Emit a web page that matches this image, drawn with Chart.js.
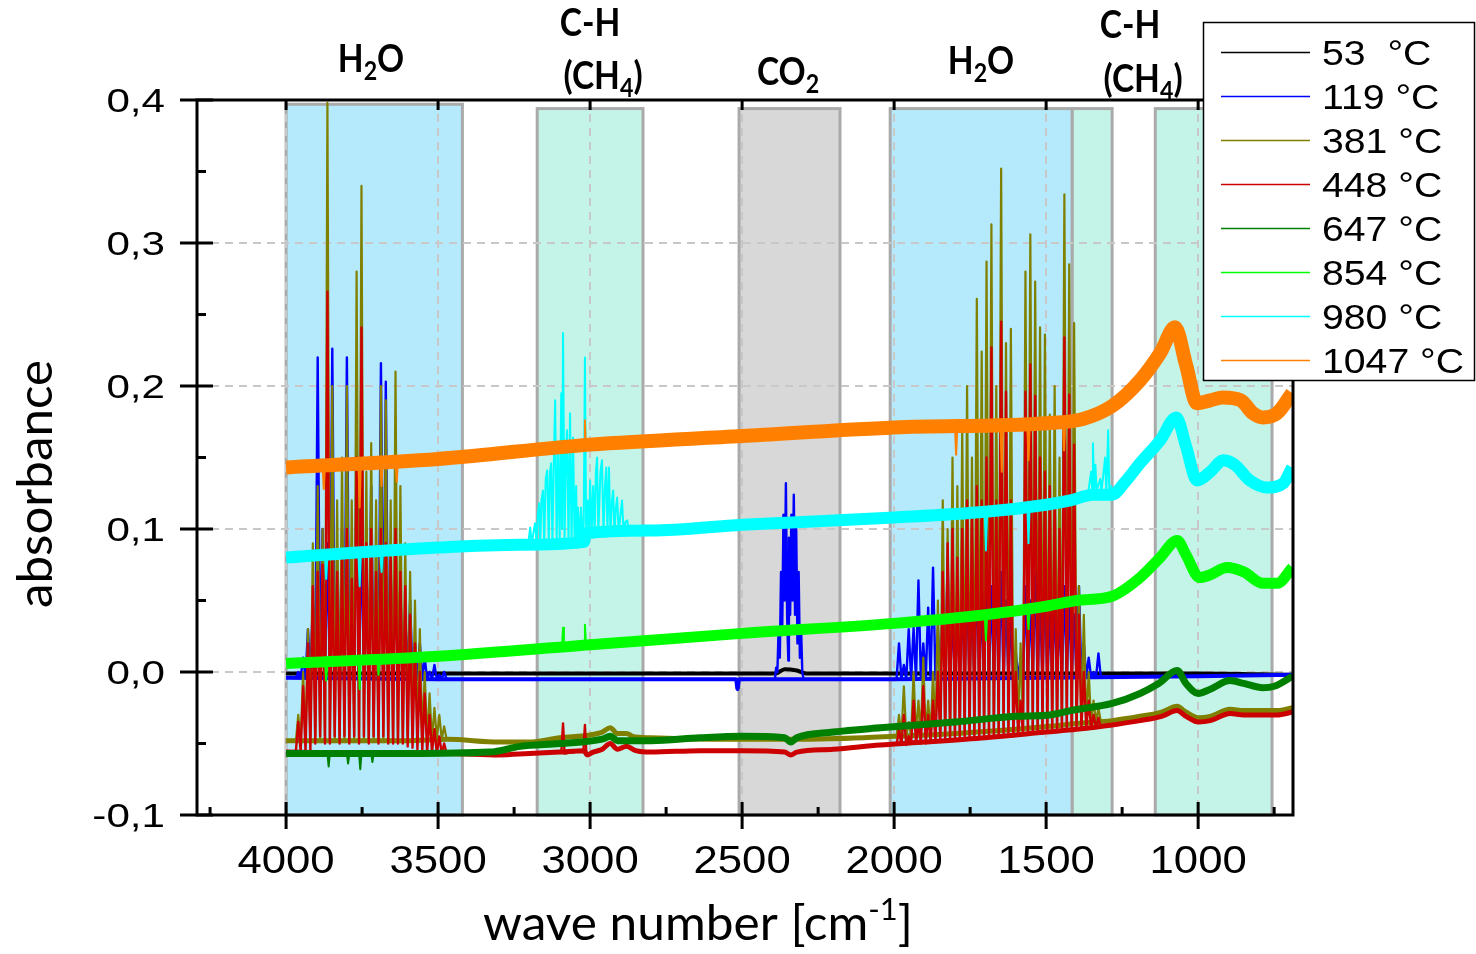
<!DOCTYPE html>
<html>
<head>
<meta charset="utf-8">
<script src="https://cdn.jsdelivr.net/npm/chart.js@4.4.1/dist/chart.umd.min.js"></script>
<style>
  html, body { margin: 0; background: #fff; }
  canvas { display: block; }
</style>
</head>
<body>
<canvas id="c" width="1476" height="954"></canvas>
<script>
// axis ticks
const xTicks = [4000, 3500, 3000, 2500, 2000, 1500, 1000];
const xTickLabels = ['4000', '3500', '3000', '2500', '2000', '1500', '1000'];
const xMinor = [4250, 3750, 3250, 2750, 2250, 1750, 1250, 750];
const yTicks = [-0.1, 0, 0.1, 0.2, 0.3, 0.4];
const yTickLabels = ['-0,1', '0,0', '0,1', '0,2', '0,3', '0,4'];
const yMinor = [-0.05, 0.05, 0.15, 0.25, 0.35];

const seriesNames = ['53  °C', '119 °C', '381 °C', '448 °C', '647 °C', '854 °C', '980 °C', '1047 °C'];

// absorption regions (wave number)
const bandFrom = [4000, 3174, 2510, 2013, 1414, 1141];
const bandTo = [3420, 2826, 2178, 1414, 1283, 757];
const bandTop = [0.397, 0.394, 0.394, 0.394, 0.394, 0.394];
const bandKind = ['h2o', 'ch4', 'co2', 'h2o', 'ch4', 'ch4'];

// smooth baselines of each spectrum [wave number, absorbance]
const base53 = [[4000,-0.001],[3500,-0.001],[3000,-0.001],[2500,-0.001],[2390,-0.001],[2360,0.002],[2320,0.001],[2290,-0.001],[2000,-0.001],[1500,-0.001],[1000,-0.001],[690,-0.002]];
const base119 = [[4000,-0.004],[3500,-0.005],[3000,-0.005],[2520,-0.005],[2515,-0.012],[2510,-0.005],[2395,-0.005],[2290,-0.005],[2000,-0.005],[1500,-0.004],[1000,-0.003],[690,-0.002]];
const base381 = [[4000,-0.048],[3600,-0.048],[3470,-0.047],[3300,-0.049],[3200,-0.049],[3100,-0.046],[3000,-0.044],[2960,-0.042],[2934,-0.039],[2910,-0.043],[2880,-0.043],[2860,-0.045],[2800,-0.046],[2600,-0.047],[2400,-0.047],[2300,-0.047],[2100,-0.046],[2000,-0.045],[1800,-0.043],[1600,-0.04],[1487,-0.038],[1400,-0.036],[1283,-0.034],[1191,-0.031],[1120,-0.028],[1069,-0.024],[1040,-0.028],[1000,-0.032],[960,-0.031],[895,-0.026],[850,-0.027],[787,-0.027],[740,-0.027],[690,-0.025]];
const base448 = [[4000,-0.056],[3600,-0.057],[3470,-0.057],[3300,-0.058],[3200,-0.057],[3100,-0.056],[3020,-0.055],[3010,-0.058],[2990,-0.056],[2960,-0.054],[2934,-0.05],[2910,-0.054],[2880,-0.052],[2850,-0.055],[2800,-0.056],[2638,-0.055],[2500,-0.055],[2360,-0.056],[2340,-0.058],[2320,-0.056],[2200,-0.054],[2046,-0.051],[1900,-0.049],[1700,-0.046],[1500,-0.042],[1400,-0.04],[1283,-0.037],[1191,-0.034],[1120,-0.031],[1069,-0.027],[1040,-0.031],[1000,-0.035],[960,-0.034],[895,-0.029],[850,-0.03],[787,-0.03],[740,-0.03],[690,-0.028]];
const base647 = [[4000,-0.057],[3600,-0.057],[3330,-0.056],[3230,-0.052],[3100,-0.05],[2960,-0.047],[2934,-0.045],[2910,-0.048],[2800,-0.048],[2638,-0.046],[2500,-0.045],[2360,-0.046],[2340,-0.049],[2320,-0.046],[2200,-0.042],[2046,-0.039],[1800,-0.035],[1600,-0.031],[1487,-0.03],[1420,-0.027],[1283,-0.022],[1191,-0.015],[1130,-0.008],[1069,0.001],[1040,-0.008],[1000,-0.015],[960,-0.012],[895,-0.006],[850,-0.008],[787,-0.011],[750,-0.01],[690,-0.003]];
const base854 = [[4000,0.006],[3500,0.011],[3000,0.019],[2500,0.027],[2000,0.034],[1700,0.04],[1500,0.046],[1400,0.05],[1283,0.053],[1191,0.066],[1125,0.08],[1069,0.092],[1040,0.082],[995,0.066],[960,0.068],[905,0.073],[850,0.07],[787,0.062],[740,0.062],[690,0.073]];
const base980 = [[4000,0.08],[3500,0.087],[3230,0.089],[3020,0.091],[3015,0.097],[2800,0.099],[2500,0.103],[2000,0.108],[1700,0.112],[1500,0.117],[1420,0.12],[1346,0.124],[1283,0.124],[1240,0.133],[1191,0.146],[1125,0.162],[1072,0.178],[1040,0.158],[1004,0.134],[960,0.14],[918,0.148],[880,0.145],[830,0.134],[773,0.129],[720,0.132],[691,0.143]];
const base1047 = [[4000,0.143],[3500,0.149],[3000,0.159],[2500,0.165],[2000,0.171],[1500,0.174],[1379,0.177],[1283,0.186],[1191,0.204],[1125,0.223],[1076,0.241],[1040,0.215],[1004,0.188],[960,0.19],[918,0.192],[860,0.19],[820,0.181],[787,0.178],[740,0.181],[691,0.195]];

// water vapour lines 4000-3450
const forest1X = [3968,3960,3952,3944,3936,3928,3920,3912,3904,3896,3888,3880,3872,3864,3856,3848,3840,3832,3824,3816,3808,3800,3792,3784,3776,3768,3760,3752,3744,3736,3728,3720,3712,3704,3696,3688,3680,3672,3664,3656,3648,3640,3632,3624,3616,3608,3600,3592,3584,3576,3568,3560,3552,3544,3536,3528,3520,3512,3504,3496,3488,3480,3472];
const red1 = [-0.056,-0.035,-0.056,-0.01,-0.056,0.02,-0.055,0.06,-0.05,0.07,
  -0.045,0.075,-0.05,0.266,-0.05,0.08,-0.045,0.07,-0.05,0.08,
  -0.045,0.10,-0.05,0.065,-0.045,0.15,-0.05,0.241,-0.045,0.09,
  -0.05,0.10,-0.045,0.07,-0.05,0.10,-0.045,0.09,-0.05,0.08,
  -0.05,0.10,-0.05,0.07,-0.05,0.06,-0.052,0.04,-0.053,0.02,
  -0.054,0.0,-0.055,-0.015,-0.056,-0.03,-0.056,-0.04,-0.057,-0.045,
  -0.057,-0.05,-0.057];
const olive1 = [-0.049,-0.03,-0.049,0.0,-0.049,0.03,-0.049,0.09,-0.049,0.13,
  -0.049,0.10,-0.049,0.398,-0.049,0.20,-0.049,0.12,-0.049,0.15,
  -0.049,0.20,-0.049,0.12,-0.049,0.28,-0.049,0.34,-0.049,0.14,
  -0.049,0.16,-0.049,0.12,-0.049,0.20,-0.049,0.19,-0.049,0.12,
  -0.049,0.21,-0.049,0.13,-0.049,0.09,-0.049,0.07,-0.048,0.05,
  -0.048,0.03,-0.048,0.0,-0.048,-0.015,-0.048,-0.025,-0.047,-0.03,
  -0.047,-0.038,-0.047];
const blue1 = [-0.004,0.0,-0.004,0.01,-0.004,0.03,-0.004,0.05,-0.005,0.22,
  -0.005,0.10,-0.005,0.09,-0.005,0.226,-0.005,0.06,-0.005,0.10,
  -0.005,0.22,-0.005,0.07,-0.005,0.15,-0.005,0.10,-0.005,0.08,
  -0.005,0.13,-0.005,0.06,-0.005,0.216,-0.005,0.203,-0.005,0.07,
  -0.005,0.08,-0.005,0.06,-0.005,0.04,-0.005,0.05,-0.005,0.02,
  -0.005,0.02,-0.005,0.01,-0.005,0.0,-0.005,0.005,-0.005,-0.002,
  -0.005,0.0,-0.005];

// water vapour lines 2000-1320
const forest2X = [1992,1984,1976,1968,1960,1952,1944,1936,1928,1920,1912,1904,1896,1888,1880,1872,1864,1856,1848,1840,1832,1824,1816,1808,1800,1792,1784,1776,1768,1760,1752,1744,1736,1728,1720,1712,1704,1696,1688,1680,1672,1664,1656,1648,1640,1632,1624,1616,1608,1600,1592,1584,1576,1568,1560,1552,1544,1536,1528,1520,1512,1504,1496,1488,1480,1472,1464,1456,1448,1440,1432,1424,1416,1408,1400,1392,1384,1376,1368,1360,1352,1344,1336,1328,1320];
const red2 = [-0.051,-0.04,-0.051,-0.03,-0.051,-0.045,-0.05,-0.02,-0.05,-0.035,
  -0.05,-0.01,-0.05,-0.03,-0.049,-0.02,-0.049,0.0,-0.049,0.07,
  -0.048,0.09,-0.048,0.10,-0.048,0.08,-0.047,0.10,-0.047,0.12,
  -0.047,0.11,-0.047,0.13,-0.046,0.12,-0.046,0.15,-0.046,0.227,
  -0.046,0.12,-0.045,0.245,-0.045,0.196,-0.045,0.12,-0.045,0.0,
  -0.044,-0.02,-0.044,0.196,-0.044,0.215,-0.043,0.193,-0.043,0.15,
  -0.043,0.14,-0.042,0.13,-0.042,0.12,-0.042,0.10,-0.041,0.234,
  -0.041,0.194,-0.041,0.159,-0.04,0.04,-0.04,0.0,-0.04,-0.02,
  -0.039,-0.03,-0.039,-0.032,-0.039];
const olive2 = [-0.045,-0.03,-0.045,-0.01,-0.045,-0.035,-0.045,0.0,-0.045,-0.02,
  -0.044,0.01,-0.044,-0.02,-0.044,0.0,-0.044,0.05,-0.044,0.12,
  -0.043,0.10,-0.043,0.15,-0.043,0.13,-0.043,0.17,-0.042,0.20,
  -0.042,0.15,-0.042,0.261,-0.042,0.224,-0.041,0.287,-0.041,0.313,
  -0.041,0.20,-0.041,0.352,-0.04,0.23,-0.04,0.24,-0.04,0.03,
  -0.04,0.02,-0.04,0.28,-0.039,0.306,-0.039,0.273,-0.039,0.241,
  -0.039,0.236,-0.038,0.18,-0.038,0.20,-0.038,0.15,-0.037,0.334,
  -0.037,0.285,-0.037,0.244,-0.036,0.06,-0.036,0.04,-0.036,0.0,
  -0.035,-0.02,-0.035,-0.025,-0.035];
const blue2 = [-0.005,0.02,-0.005,0.005,-0.005,0.03,-0.005,0.031,-0.005,0.064,
  -0.005,0.02,-0.005,0.045,-0.005,0.073,-0.005,0.03,-0.005,0.05,
  -0.005,0.077,-0.005,0.04,-0.005,0.04,-0.005,0.05,-0.005,0.06,
  -0.005,0.05,-0.005,0.07,-0.005,0.05,-0.005,0.08,-0.005,0.06,
  -0.005,0.06,-0.005,0.07,-0.005,0.05,-0.005,0.04,-0.005,0.014,
  -0.005,0.01,-0.005,0.06,-0.005,0.05,-0.005,0.07,-0.005,0.05,
  -0.005,0.06,-0.005,0.04,-0.005,0.05,-0.005,0.04,-0.004,0.06,
  -0.004,0.05,-0.004,0.04,-0.004,0.06,-0.004,0.02,-0.004,0.01,
  -0.004,0.0,-0.004,0.013,-0.004];

// CO2 band seen in the 119 °C spectrum
const co2X = [2392,2388,2384,2380,2376,2372,2368,2364,2360,2356,2352,2348,2346,2342,2338,2334,2330,2326,2322,2318,2314,2310,2306,2302,2298];
const blueCO2 = [-0.005,0.003,0.0,0.03,0.01,0.07,0.03,0.11,0.05,0.132,0.04,0.008,0.094,0.04,0.11,0.05,0.124,0.04,0.10,0.02,0.07,0.01,0.03,0.0,-0.005];

// small CH4 lines in the 448 °C spectrum
const redCH4 = [[3095,-0.057],[3089,-0.036],[3084,-0.057],[3022,-0.055],[3017,-0.037],[3012,-0.058]];

// CH4 lines and dips of the 980 °C spectrum
const cyanLines = [[3872,0.082],[3868,0.065],[3864,0.082],[3762,0.083],[3758,0.06],[3754,0.083],[3690,0.084],[3686,0.07],[3682,0.084],
  [3204,0.089],[3197,0.101],[3192,0.089],[3186,0.098],[3181,0.104],[3176,0.09],[3172,0.11],[3168,0.118],[3164,0.09],[3160,0.12],[3155,0.127],[3151,0.09],[3146,0.135],[3141,0.141],[3136,0.091],[3132,0.14],[3128,0.146],[3124,0.091],[3119,0.15],[3115,0.19],[3110,0.091],[3105,0.153],[3100,0.091],[3095,0.195],[3092,0.1],[3089,0.237],[3084,0.091],[3080,0.15],[3076,0.169],[3071,0.091],[3066,0.181],[3061,0.091],[3056,0.164],[3051,0.091],[3046,0.13],[3043,0.091],[3040,0.115],[3035,0.091],[3030,0.115],[3025,0.091],[3021,0.105],[3017,0.22],[3013,0.098],[3008,0.12],[3004,0.097],[3000,0.134],[2995,0.097],[2990,0.13],[2985,0.097],[2981,0.14],[2977,0.15],[2973,0.097],[2966,0.14],[2961,0.148],[2956,0.097],[2951,0.13],[2947,0.143],[2943,0.097],[2938,0.143],[2933,0.097],[2928,0.12],[2924,0.127],[2920,0.097],[2915,0.115],[2911,0.122],[2906,0.098],[2900,0.11],[2895,0.12],[2890,0.098],[2884,0.105],[2878,0.106],[2872,0.098],
  [1702,0.112],[1698,0.085],[1694,0.112],[1562,0.118],[1558,0.09],[1554,0.118],
  [1372,0.124],[1362,0.125],[1352,0.14],[1348,0.126],[1346,0.16],[1342,0.127],[1338,0.145],[1334,0.127],[1322,0.135],[1318,0.126],[1306,0.15],[1302,0.125],[1296,0.169],[1292,0.124],[1286,0.13],[1282,0.123]];
const orangeLines = [[3880,0.145],[3876,0.128],[3872,0.145],[3762,0.147],[3758,0.115],[3754,0.147],[3690,0.148],[3686,0.13],[3682,0.148],[3640,0.148],[3636,0.133],[3632,0.148],
  [3020,0.158],[3017,0.176],[3014,0.158],
  [1800,0.172],[1796,0.152],[1792,0.172],[1650,0.172],[1646,0.14],[1642,0.172],[1562,0.173],[1558,0.148],[1554,0.173],[1445,0.175],[1441,0.155],[1437,0.175]];
const greenLines = [[3872,0.007],[3868,-0.006],[3864,0.007],[3762,0.009],[3758,-0.012],[3754,0.009],[3700,0.01],[3696,-0.002],[3692,0.01],
  [3092,0.019],[3089,0.031],[3086,0.019],[3020,0.021],[3017,0.033],[3014,0.021],
  [1702,0.04],[1698,0.022],[1694,0.04],[1562,0.044],[1558,0.03],[1554,0.044]];
const dkgreenLines = [[3864,-0.057],[3860,-0.066],[3856,-0.057],[3800,-0.057],[3796,-0.064],[3792,-0.057],[3760,-0.057],[3756,-0.068],[3752,-0.057],[3720,-0.057],[3716,-0.063],[3712,-0.057]];

const colors = ['#000000', '#0000ff', '#808000', '#cc0000', '#008000', '#00ff00', '#00ffff', '#ff8000'];
const bandFill = { h2o: '#b4eafb', ch4: '#c4f4e8', co2: '#d8d8d8' };

const pairs = arr => arr.map(([x, y]) => ({ x, y }));
const zip = (xs, ys) => xs.map((x, i) => ({ x, y: ys[i] }));
// join separate segments with a break between them
function joinSegs(...segs) {
  const out = [];
  segs.forEach((s, i) => {
    if (i > 0) out.push({ x: s[0].x, y: null });
    out.push(...s);
  });
  return out;
}

const baseLines = [base53, base119, base381, base448, base647, base854, base980, base1047];
const detail = [
  null,
  joinSegs(zip(forest1X, blue1), zip(co2X, blueCO2), zip(forest2X, blue2)),
  joinSegs(zip(forest1X, olive1), zip(forest2X, olive2)),
  joinSegs(zip(forest1X, red1), pairs(redCH4), zip(forest2X, red2)),
  pairs(dkgreenLines),
  pairs(greenLines),
  pairs(cyanLines),
  pairs(orangeLines)
];
const baseWidth = [4, 4, 5, 5, 7, 11, 12, 14];
const detailWidth = [0, 2.4, 2.2, 2.4, 2, 2, 2, 2];

const common = { pointRadius: 0, borderJoinStyle: 'round', borderCapStyle: 'butt', fill: false, spanGaps: false };
const datasets = [];
baseLines.forEach((b, i) => {
  datasets.push({ label: seriesNames[i], data: pairs(b), borderColor: colors[i], borderWidth: baseWidth[i],
    cubicInterpolationMode: 'monotone', ...common });
  if (detail[i]) datasets.push({ label: seriesNames[i], data: detail[i], borderColor: colors[i],
    borderWidth: detailWidth[i], tension: 0, ...common });
});
// later temperature drawn on top
datasets.forEach((d, i) => { d.order = datasets.length - i; });

function drawRich(ctx, parts, cx, baseY, o) {
  const font = s => (o.bold ? 'bold ' : '') + (s ? o.small : o.size) + 'px ' + o.family;
  let w = 0;
  for (const [t, s] of parts) { ctx.font = font(s); w += ctx.measureText(t).width; }
  const sx = o.fitW ? o.fitW / w : (o.sx || 1);
  ctx.save();
  ctx.translate(cx, baseY);
  ctx.scale(sx, 1);
  ctx.textAlign = 'left';
  ctx.textBaseline = 'alphabetic';
  ctx.fillStyle = '#000';
  let xx = -w / 2;
  for (const [t, s] of parts) {
    ctx.font = font(s);
    const dy = s === 1 ? o.dySub : s === 2 ? o.dySup : 0;
    ctx.fillText(t, xx, dy);
    xx += ctx.measureText(t).width;
  }
  ctx.restore();
}

const notes = [
  { parts: [['H', 0], ['2', 1], ['O', 0]], x: 371, y: 72 },
  { parts: [['C-H', 0]], x: 590, y: 36 },
  { parts: [['(CH', 0], ['4', 1], [')', 0]], x: 603, y: 89 },
  { parts: [['CO', 0], ['2', 1]], x: 788, y: 85 },
  { parts: [['H', 0], ['2', 1], ['O', 0]], x: 981, y: 74 },
  { parts: [['C-H', 0]], x: 1130, y: 38 },
  { parts: [['(CH', 0], ['4', 1], [')', 0]], x: 1143, y: 92 }
];

const decor = {
  id: 'decor',
  beforeDraw(chart) {
    const { ctx, scales: { x, y } } = chart;
    ctx.save();
    bandFrom.forEach((f, i) => {
      const x0 = x.getPixelForValue(f), x1 = x.getPixelForValue(bandTo[i]);
      const y0 = y.getPixelForValue(bandTop[i]), y1 = y.getPixelForValue(-0.1);
      ctx.fillStyle = bandFill[bandKind[i]];
      ctx.fillRect(x0, y0, x1 - x0, y1 - y0);
      ctx.strokeStyle = '#aaaaaa';
      ctx.lineWidth = 3;
      ctx.strokeRect(x0, y0, x1 - x0, y1 - y0);
    });
    ctx.restore();
  },
  afterDraw(chart) {
    const { ctx, chartArea: a, scales: { x, y } } = chart;
    ctx.save();
    ctx.strokeStyle = '#000';
    ctx.lineWidth = 3;
    ctx.strokeRect(a.left, a.top, a.right - a.left, a.bottom - a.top);

    ctx.beginPath();
    yTicks.forEach(v => { const py = y.getPixelForValue(v); ctx.moveTo(a.left - 17, py); ctx.lineTo(a.left + 16, py); });
    yMinor.forEach(v => { const py = y.getPixelForValue(v); ctx.moveTo(a.left, py); ctx.lineTo(a.left + 9, py); });
    xTicks.forEach(v => {
      const px = x.getPixelForValue(v);
      ctx.moveTo(px, a.bottom - 13); ctx.lineTo(px, a.bottom + 14);
      ctx.moveTo(px, a.top); ctx.lineTo(px, a.top + 10);
    });
    xMinor.forEach(v => { const px = x.getPixelForValue(v); ctx.moveTo(px, a.bottom); ctx.lineTo(px, a.bottom - 8); });
    ctx.stroke();

    // tick labels
    ctx.fillStyle = '#000';
    ctx.textBaseline = 'alphabetic';
    ctx.font = '34px "Liberation Sans", Arial, sans-serif';
    ctx.textAlign = 'right';
    yTicks.forEach((v, i) => {
      ctx.save();
      ctx.translate(165, y.getPixelForValue(v) + 12);
      ctx.scale(1.24, 1);
      ctx.fillText(yTickLabels[i], 0, 0);
      ctx.restore();
    });
    ctx.font = '39px "Liberation Sans", Arial, sans-serif';
    ctx.textAlign = 'center';
    xTicks.forEach((v, i) => {
      ctx.save();
      ctx.translate(x.getPixelForValue(v), 873);
      ctx.scale(1.12, 1);
      ctx.fillText(xTickLabels[i], 0, 0);
      ctx.restore();
    });

    // axis titles
    const fam = 'Lato, "Open Sans", sans-serif';
    drawRich(ctx, [['wave number [cm', 0], ['-1', 2], [']', 0]], 698, 940,
      { size: 48, small: 30, dySup: -20, family: fam, fitW: 430 });
    ctx.save();
    ctx.translate(52, 484);
    ctx.rotate(-Math.PI / 2);
    drawRich(ctx, [['absorbance', 0]], 0, 0, { size: 48, small: 30, family: fam, fitW: 248 });
    ctx.restore();

    // band labels
    notes.forEach(n => drawRich(ctx, n.parts, n.x, n.y,
      { size: 39, small: 27, dySub: 8, bold: true, family: fam, sx: 0.86 }));

    // legend
    ctx.fillStyle = '#fff';
    ctx.fillRect(1203, 22, 272, 359);
    ctx.strokeStyle = '#000';
    ctx.lineWidth = 1.5;
    ctx.strokeRect(1203.5, 22.5, 271, 358);
    ctx.font = '35px "Liberation Sans", Arial, sans-serif';
    ctx.textAlign = 'left';
    seriesNames.forEach((name, i) => {
      const ry = 52.5 + i * 44;
      ctx.strokeStyle = colors[i];
      ctx.lineWidth = 1.5;
      ctx.beginPath();
      ctx.moveTo(1221, ry);
      ctx.lineTo(1310, ry);
      ctx.stroke();
      ctx.save();
      ctx.translate(1322, ry + 12.5);
      ctx.scale(1.12, 1);
      ctx.fillStyle = '#000';
      ctx.fillText(name, 0, 0);
      ctx.restore();
    });
    ctx.restore();
  }
};

new Chart(document.getElementById('c'), {
  type: 'line',
  data: { datasets },
  options: {
    responsive: false,
    devicePixelRatio: 1,
    animation: false,
    events: [],
    layout: { autoPadding: false, padding: { left: 197, top: 100, right: 183, bottom: 139 } },
    plugins: { legend: { display: false }, tooltip: { enabled: false } },
    scales: {
      x: {
        type: 'linear', reverse: true, min: 688, max: 4293,
        afterBuildTicks: s => { s.ticks = xTicks.map(v => ({ value: v })); },
        ticks: { display: false },
        grid: { color: '#c8c8c8', lineWidth: 2, drawTicks: false },
        border: { display: false, dash: [8, 6] }
      },
      y: {
        type: 'linear', min: -0.1, max: 0.4,
        afterBuildTicks: s => { s.ticks = yTicks.map(v => ({ value: v })); },
        ticks: { display: false },
        grid: { color: '#c8c8c8', lineWidth: 2, drawTicks: false },
        border: { display: false, dash: [8, 6] }
      }
    }
  },
  plugins: [decor]
});
</script>
</body>
</html>
